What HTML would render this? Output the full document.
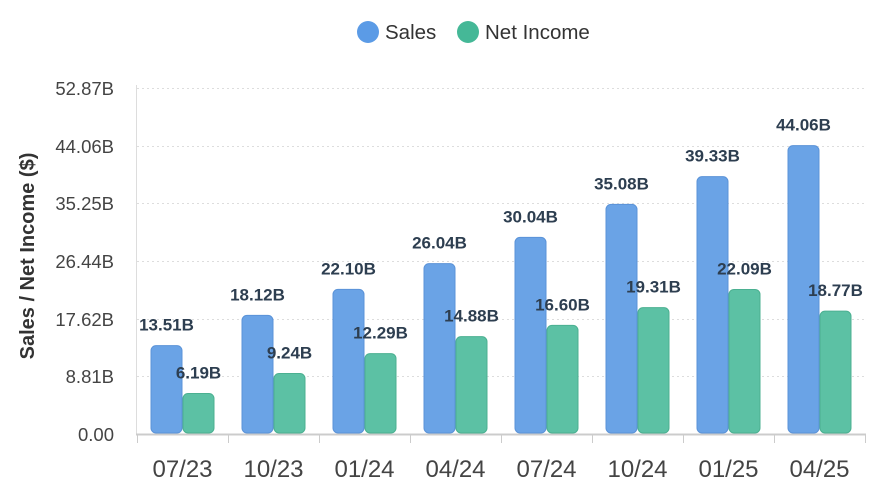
<!DOCTYPE html><html><head><style>body{margin:0;background:#fff}svg{display:block}</style></head><body>
<svg width="887" height="494" xmlns="http://www.w3.org/2000/svg" font-family="Liberation Sans, Arial, sans-serif">
<circle cx="368" cy="32" r="11" fill="#5b9be6"/><text x="385" y="39" font-size="20.5" fill="#333">Sales</text>
<circle cx="468" cy="32" r="11" fill="#45b897"/><text x="485" y="39" font-size="20.5" fill="#333">Net Income</text>
<g stroke="#ddd" stroke-dasharray="2,3" stroke-width="1">
<line x1="137" x2="865" y1="88.5" y2="88.5"/><line x1="137" x2="865" y1="146.5" y2="146.5"/><line x1="137" x2="865" y1="203.5" y2="203.5"/><line x1="137" x2="865" y1="261.5" y2="261.5"/><line x1="137" x2="865" y1="319.5" y2="319.5"/><line x1="137" x2="865" y1="376.5" y2="376.5"/></g>
<line x1="136.5" x2="136.5" y1="85" y2="434" stroke="#ddd"/>
<g font-size="18.5" fill="#444" text-anchor="end">
<text x="114" y="95">52.87B</text><text x="114" y="153">44.06B</text><text x="114" y="210">35.25B</text><text x="114" y="268">26.44B</text><text x="114" y="326">17.62B</text><text x="114" y="383">8.81B</text><text x="114" y="441">0.00</text></g>
<text transform="translate(34,256) rotate(-90)" text-anchor="middle" font-size="20" font-weight="bold" fill="#333">Sales / Net Income ($)</text>
<g id="bars"></g>
<line x1="136" x2="866" y1="434.5" y2="434.5" stroke="#ccc" stroke-width="2"/>
<g stroke="#ccc"><line x1="137.5" x2="137.5" y1="434" y2="443"/><line x1="228.5" x2="228.5" y1="434" y2="443"/><line x1="319.5" x2="319.5" y1="434" y2="443"/><line x1="410.5" x2="410.5" y1="434" y2="443"/><line x1="501.5" x2="501.5" y1="434" y2="443"/><line x1="592.5" x2="592.5" y1="434" y2="443"/><line x1="683.5" x2="683.5" y1="434" y2="443"/><line x1="774.5" x2="774.5" y1="434" y2="443"/><line x1="865.5" x2="865.5" y1="434" y2="443"/></g>
</svg>
<script>
var s=[13.51,18.12,22.10,26.04,30.04,35.08,39.33,44.06],n=[6.19,9.24,12.29,14.88,16.60,19.31,22.09,18.77],l=["07/23","10/23","01/24","04/24","07/24","10/24","01/25","04/25"];
var g=document.getElementById('bars'),h='';
for(var i=0;i<8;i++){var c=137+91*i+45.5;
var ys=434-s[i]*6.544,yn=434-n[i]*6.544;
h+='<rect x="'+(c-31.5)+'" y="'+ys+'" width="31" height="'+(433-ys)+'" rx="5" fill="#6aa3e6" stroke="#5b93d8"/>';
h+='<rect x="'+(c+0.5)+'" y="'+yn+'" width="31" height="'+(433-yn)+'" rx="5" fill="#5cc1a4" stroke="#4bb091"/>';
h+='<text x="'+(c-16)+'" y="'+(ys-15)+'" text-anchor="middle" font-size="17" font-weight="bold" fill="#2d3e50">'+s[i].toFixed(2)+'B</text>';
h+='<text x="'+(c+16)+'" y="'+(yn-15)+'" text-anchor="middle" font-size="17" font-weight="bold" fill="#2d3e50">'+n[i].toFixed(2)+'B</text>';
h+='<text x="'+c+'" y="477" text-anchor="middle" font-size="24" fill="#444">'+l[i]+'</text>';}
g.innerHTML=h;
</script>
</body></html>
